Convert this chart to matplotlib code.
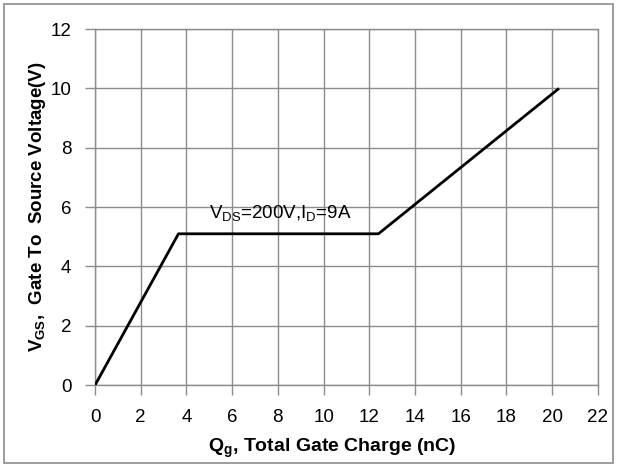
import matplotlib.pyplot as plt
from matplotlib.patches import Rectangle

plt.rcParams['font.family'] = ['Liberation Sans', 'DejaVu Sans']

# Gate charge curve
qg = [0, 3.65, 12.4, 20.3]
vgs = [0, 5.1, 5.1, 10]

x_ticks = [0, 2, 4, 6, 8, 10, 12, 14, 16, 18, 20, 22]
y_ticks = [0, 2, 4, 6, 8, 10, 12]

fig = plt.figure(figsize=(6.17, 4.68), dpi=100)
ax = fig.add_axes([0.154, 0.177, 0.815, 0.761])

grid_col = '#8c8c8c'
ax.plot(qg, vgs, color='black', lw=2, zorder=3, solid_capstyle='butt')

ax.set_xlim(0, 22)
ax.set_ylim(0, 12)
ax.set_xticks(x_ticks)
ax.set_yticks(y_ticks)
ax.grid(True, color=grid_col, lw=1)
for s in ax.spines.values():
    s.set_color(grid_col)
    s.set_linewidth(1)
ax.tick_params(direction='out', length=7, width=1, color=grid_col,
               labelsize=13.5)
ax.tick_params(axis='x', pad=10)
ax.tick_params(axis='y', pad=10)

ax.set_xlabel('Q$_\\mathregular{g}$, Total Gate Charge (nC)', fontsize=14,
              fontweight='bold')
ax.set_ylabel('V$_\\mathregular{GS}$,  Gate To  Source Voltage(V)', fontsize=13.5,
              fontweight='bold')
ax.xaxis.set_label_coords(0.472, -0.145)
ax.yaxis.set_label_coords(-0.093, 0.5)

ax.text(5.0, 5.6, 'V$_\\mathregular{DS}$=200V,I$_\\mathregular{D}$=9A',
        fontsize=13.5, ha='left', va='baseline')

# figure border
fig.patches.append(Rectangle((0.006, 0.01), 0.988, 0.982, transform=fig.transFigure,
                             fill=False, edgecolor='#8c8c8c', lw=1.2))

fig.savefig('out.png', dpi=100)
